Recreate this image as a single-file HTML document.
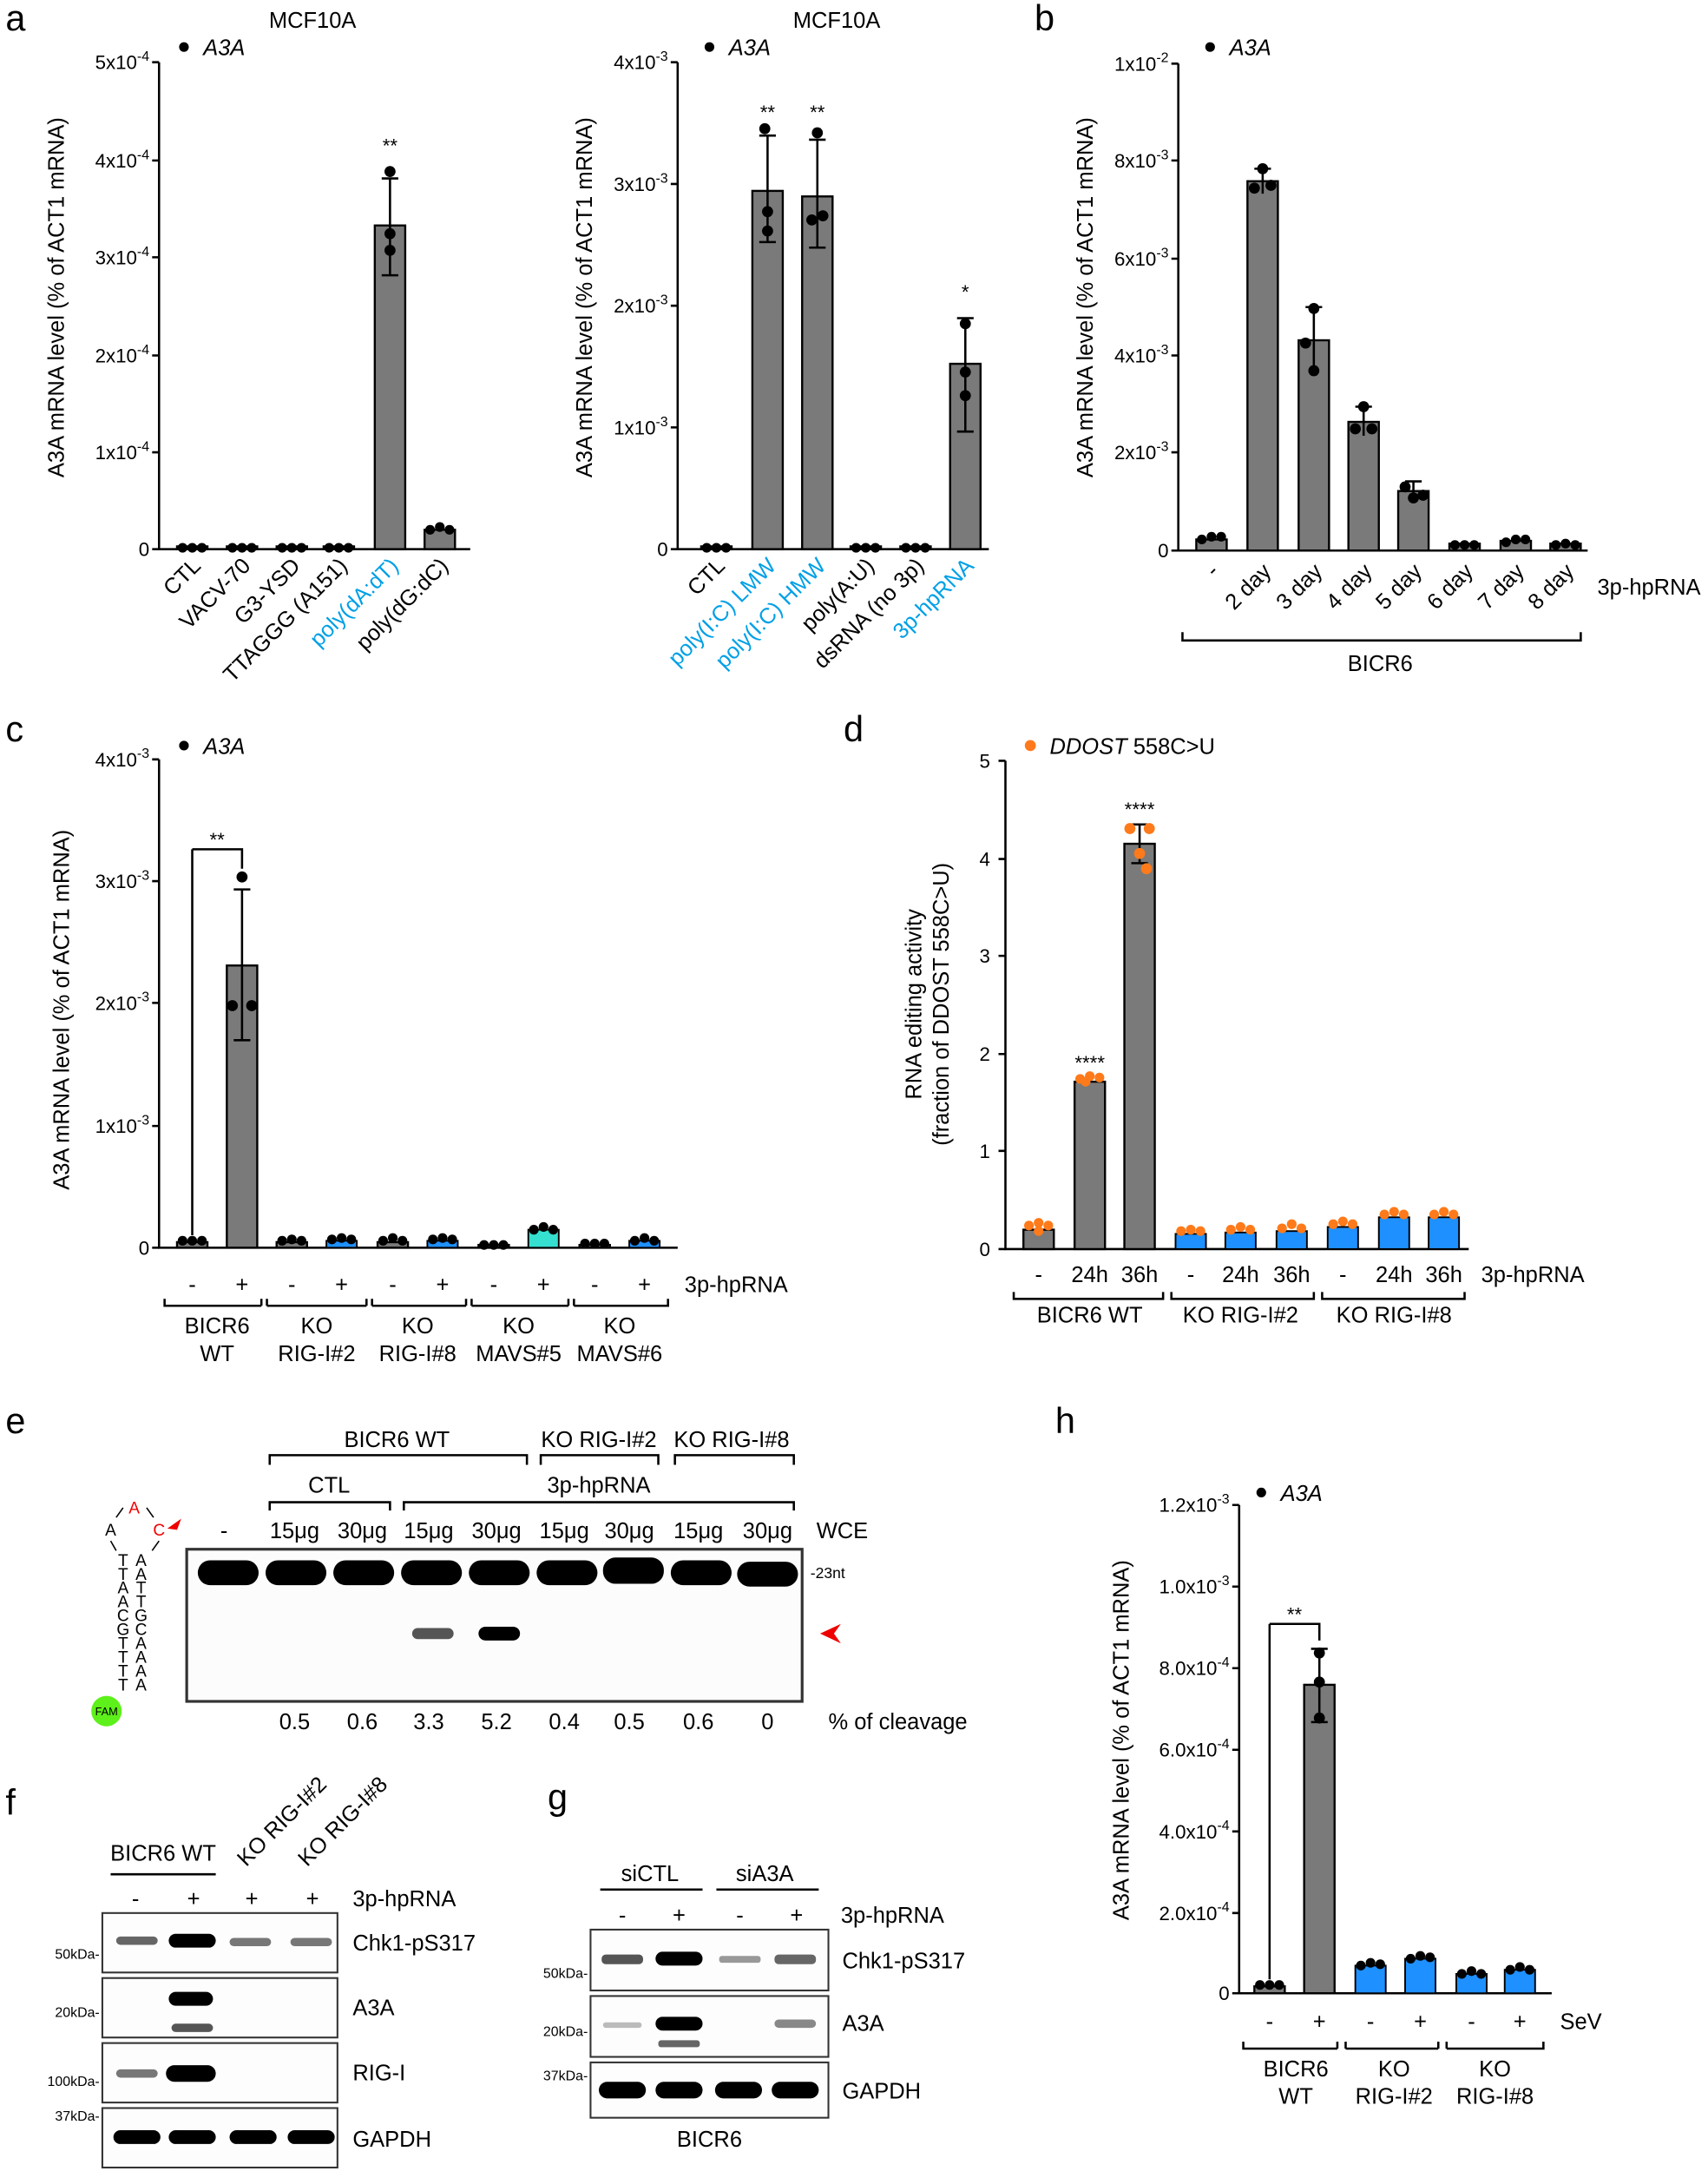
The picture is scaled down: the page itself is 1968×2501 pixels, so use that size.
<!DOCTYPE html>
<html><head><meta charset="utf-8"><style>
html,body{margin:0;padding:0;background:#fff}
svg{display:block}
text{font-family:"Liberation Sans",sans-serif;fill:#000}
.t{font-size:14px}
.l{font-size:16px}
.p{font-size:26px}
.ax{stroke:#000;stroke-width:1.6;fill:none}
.bar{fill:#7a7a7a;stroke:#000;stroke-width:1.5}
.bb{fill:#1e90ff;stroke:#000;stroke-width:1.2}
.eb{stroke:#000;stroke-width:1.6;fill:none}
.blue{fill:#00a0e6}
</style></head><body>
<svg width="1968" height="2501" viewBox="0 0 1235 1569.5" xmlns="http://www.w3.org/2000/svg">
<!-- panel letters -->
<text class="p" x="4" y="22">a</text>
<text class="p" x="748" y="22">b</text>
<text class="p" x="4" y="536">c</text>
<text class="p" x="610" y="536">d</text>
<text class="p" x="4" y="1036">e</text>
<text class="p" x="763" y="1036">h</text>
<text class="p" x="4" y="1312">f</text>
<text class="p" x="396" y="1308">g</text>

<!-- ===== a1 ===== -->
<text class="l" x="226" y="20" text-anchor="middle">MCF10A</text>
<circle cx="133" cy="34" r="3.5"/><text class="l" x="147" y="40" font-style="italic">A3A</text>
<path class="ax" d="M115 45V397H340"/>
<g class="eb"><path d="M110 45H115M110 116H115M110 186H115M110 257H115M110 327H115M110 397H115"/></g>
<g class="t" text-anchor="end">
<text x="108" y="50">5x10<tspan dy="-6" font-size="10">-4</tspan></text>
<text x="108" y="121">4x10<tspan dy="-6" font-size="10">-4</tspan></text>
<text x="108" y="191">3x10<tspan dy="-6" font-size="10">-4</tspan></text>
<text x="108" y="262">2x10<tspan dy="-6" font-size="10">-4</tspan></text>
<text x="108" y="332">1x10<tspan dy="-6" font-size="10">-4</tspan></text>
<text x="108" y="402">0</text></g>
<text class="l" transform="translate(46,215) rotate(-90)" text-anchor="middle">A3A mRNA level (% of ACT1 mRNA)</text>
<rect class="bar" x="128" y="395" width="22" height="2"/><rect class="bar" x="164" y="395" width="22" height="2"/>
<rect class="bar" x="200" y="395" width="22" height="2"/><rect class="bar" x="234" y="395" width="22" height="2"/>
<rect class="bar" x="271" y="163" width="22" height="234"/><rect class="bar" x="307" y="383" width="22" height="14"/>
<path class="eb" d="M282 129V199M276 129H288M276 199H288"/>
<g><circle cx="132" cy="396" r="3.5"/><circle cx="139" cy="396" r="3.5"/><circle cx="146" cy="396" r="3.5"/>
<circle cx="168" cy="396" r="3.5"/><circle cx="175" cy="396" r="3.5"/><circle cx="182" cy="396" r="3.5"/>
<circle cx="204" cy="396" r="3.5"/><circle cx="211" cy="396" r="3.5"/><circle cx="218" cy="396" r="3.5"/>
<circle cx="238" cy="396" r="3.5"/><circle cx="245" cy="396" r="3.5"/><circle cx="252" cy="396" r="3.5"/>
<circle cx="282" cy="124" r="4"/><circle cx="282" cy="169" r="4"/><circle cx="282" cy="181" r="4"/>
<circle cx="311" cy="383" r="3.5"/><circle cx="318" cy="381" r="3.5"/><circle cx="325" cy="383" r="3.5"/></g>
<text class="t" x="282" y="110" text-anchor="middle">**</text>
<g class="l" text-anchor="end">
<text transform="translate(146,410) rotate(-45)">CTL</text>
<text transform="translate(182,410) rotate(-45)">VACV-70</text>
<text transform="translate(218,410) rotate(-45)">G3-YSD</text>
<text transform="translate(252,410) rotate(-45)">TTAGGG (A151)</text>
<text class="blue" transform="translate(289,410) rotate(-45)">poly(dA:dT)</text>
<text transform="translate(325,410) rotate(-45)">poly(dG:dC)</text></g>

<!-- ===== a2 ===== -->
<text class="l" x="605" y="20" text-anchor="middle">MCF10A</text>
<circle cx="513" cy="34" r="3.5"/><text class="l" x="527" y="40" font-style="italic">A3A</text>
<path class="ax" d="M490 45V397H715"/>
<path class="eb" d="M485 45H490M485 133H490M485 221H490M485 309H490M485 397H490"/>
<g class="t" text-anchor="end">
<text x="483" y="50">4x10<tspan dy="-6" font-size="10">-3</tspan></text>
<text x="483" y="138">3x10<tspan dy="-6" font-size="10">-3</tspan></text>
<text x="483" y="226">2x10<tspan dy="-6" font-size="10">-3</tspan></text>
<text x="483" y="314">1x10<tspan dy="-6" font-size="10">-3</tspan></text>
<text x="483" y="402">0</text></g>
<text class="l" transform="translate(428,215) rotate(-90)" text-anchor="middle">A3A mRNA level (% of ACT1 mRNA)</text>
<rect class="bar" x="507" y="395" width="22" height="2"/>
<rect class="bar" x="544" y="138" width="22" height="259"/>
<rect class="bar" x="580" y="142" width="22" height="255"/>
<rect class="bar" x="615" y="395" width="22" height="2"/><rect class="bar" x="651" y="395" width="22" height="2"/>
<rect class="bar" x="687" y="263" width="22" height="134"/>
<path class="eb" d="M555 98V175M549 98H561M549 175H561M591 101V179M585 101H597M585 179H597M698 230V312M692 230H704M692 312H704"/>
<g><circle cx="511" cy="396" r="3.5"/><circle cx="518" cy="396" r="3.5"/><circle cx="525" cy="396" r="3.5"/>
<circle cx="553" cy="93" r="4"/><circle cx="555" cy="153" r="4"/><circle cx="555" cy="167" r="4"/>
<circle cx="591" cy="96" r="4"/><circle cx="595" cy="156" r="4"/><circle cx="587" cy="159" r="4"/>
<circle cx="619" cy="396" r="3.5"/><circle cx="626" cy="396" r="3.5"/><circle cx="633" cy="396" r="3.5"/>
<circle cx="655" cy="396" r="3.5"/><circle cx="662" cy="396" r="3.5"/><circle cx="669" cy="396" r="3.5"/>
<circle cx="698" cy="234" r="4"/><circle cx="698" cy="269" r="4"/><circle cx="698" cy="286" r="4"/></g>
<text class="t" x="555" y="86" text-anchor="middle">**</text><text class="t" x="591" y="86" text-anchor="middle">**</text>
<text class="t" x="698" y="216" text-anchor="middle">*</text>
<g class="l" text-anchor="end">
<text transform="translate(525,410) rotate(-45)">CTL</text>
<text class="blue" transform="translate(562,410) rotate(-45)">poly(I:C) LMW</text>
<text class="blue" transform="translate(598,410) rotate(-45)">poly(I:C) HMW</text>
<text transform="translate(633,410) rotate(-45)">poly(A:U)</text>
<text transform="translate(669,410) rotate(-45)">dsRNA (no 3p)</text>
<text class="blue" transform="translate(705,410) rotate(-45)">3p-hpRNA</text></g>

<!-- ===== b ===== -->
<circle cx="875" cy="34" r="3.5"/><text class="l" x="889" y="40" font-style="italic">A3A</text>
<path class="ax" d="M852 46V398H1148"/>
<path class="eb" d="M847 46H852M847 116H852M847 187H852M847 257H852M847 327H852M847 398H852"/>
<g class="t" text-anchor="end">
<text x="845" y="51">1x10<tspan dy="-6" font-size="10">-2</tspan></text>
<text x="845" y="121">8x10<tspan dy="-6" font-size="10">-3</tspan></text>
<text x="845" y="192">6x10<tspan dy="-6" font-size="10">-3</tspan></text>
<text x="845" y="262">4x10<tspan dy="-6" font-size="10">-3</tspan></text>
<text x="845" y="332">2x10<tspan dy="-6" font-size="10">-3</tspan></text>
<text x="845" y="403">0</text></g>
<text class="l" transform="translate(790,215) rotate(-90)" text-anchor="middle">A3A mRNA level (% of ACT1 mRNA)</text>
<rect class="bar" x="865" y="390" width="22" height="8"/>
<rect class="bar" x="902" y="131" width="22" height="267"/>
<rect class="bar" x="939" y="246" width="22" height="152"/>
<rect class="bar" x="975" y="305" width="22" height="93"/>
<rect class="bar" x="1011" y="355" width="22" height="43"/>
<rect class="bar" x="1048" y="393" width="22" height="5"/>
<rect class="bar" x="1085" y="391" width="22" height="7"/>
<rect class="bar" x="1121" y="393" width="22" height="5"/>
<path class="eb" d="M913 122V140M907 122H919M950 222V270M944 222H956M986 294V315M980 294H992M1022 348V362M1016 348H1028"/>
<g><circle cx="869" cy="390" r="3.5"/><circle cx="876" cy="388" r="3.5"/><circle cx="883" cy="388" r="3.5"/>
<circle cx="913" cy="122" r="4"/><circle cx="907" cy="136" r="4"/><circle cx="919" cy="134" r="4"/>
<circle cx="950" cy="223" r="4"/><circle cx="944" cy="248" r="4"/><circle cx="950" cy="268" r="4"/>
<circle cx="986" cy="294" r="4"/><circle cx="980" cy="310" r="4"/><circle cx="992" cy="310" r="4"/>
<circle cx="1016" cy="352" r="4"/><circle cx="1022" cy="360" r="4"/><circle cx="1029" cy="358" r="4"/>
<circle cx="1052" cy="394" r="3.5"/><circle cx="1059" cy="394" r="3.5"/><circle cx="1066" cy="394" r="3.5"/>
<circle cx="1089" cy="392" r="3.5"/><circle cx="1096" cy="390" r="3.5"/><circle cx="1103" cy="390" r="3.5"/>
<circle cx="1125" cy="394" r="3.5"/><circle cx="1132" cy="393" r="3.5"/><circle cx="1139" cy="394" r="3.5"/></g>
<g class="l" text-anchor="end">
<text transform="translate(882,414) rotate(-45)">-</text>
<text transform="translate(920,414) rotate(-45)">2 day</text>
<text transform="translate(957,414) rotate(-45)">3 day</text>
<text transform="translate(993,414) rotate(-45)">4 day</text>
<text transform="translate(1029,414) rotate(-45)">5 day</text>
<text transform="translate(1066,414) rotate(-45)">6 day</text>
<text transform="translate(1103,414) rotate(-45)">7 day</text>
<text transform="translate(1139,414) rotate(-45)">8 day</text></g>
<text class="l" x="1155" y="430">3p-hpRNA</text>
<path class="eb" d="M855 457V463H1143V457"/>
<text class="l" x="998" y="485" text-anchor="middle">BICR6</text>

<!-- ===== c ===== -->
<circle cx="133" cy="539" r="3.5"/><text class="l" x="147" y="545" font-style="italic">A3A</text>
<path class="ax" d="M115 549V902H490"/>
<path class="eb" d="M110 549H115M110 637H115M110 725H115M110 814H115M110 902H115"/>
<g class="t" text-anchor="end">
<text x="108" y="554">4x10<tspan dy="-6" font-size="10">-3</tspan></text>
<text x="108" y="642">3x10<tspan dy="-6" font-size="10">-3</tspan></text>
<text x="108" y="730">2x10<tspan dy="-6" font-size="10">-3</tspan></text>
<text x="108" y="819">1x10<tspan dy="-6" font-size="10">-3</tspan></text>
<text x="108" y="907">0</text></g>
<text class="l" transform="translate(50,730) rotate(-90)" text-anchor="middle">A3A mRNA level (% of ACT1 mRNA)</text>
<rect class="bar" x="128" y="898" width="22" height="4"/>
<rect class="bar" x="164" y="698" width="22" height="204"/>
<rect class="bar" x="200" y="898" width="22" height="4"/><rect class="bb" x="236" y="897" width="22" height="5"/>
<rect class="bar" x="273" y="898" width="22" height="4"/><rect class="bb" x="309" y="897" width="22" height="5"/>
<rect class="bar" x="346" y="900" width="22" height="2"/><rect class="bb" style="fill:#35e0d0" x="382" y="889" width="22" height="13"/>
<rect class="bar" x="419" y="900" width="22" height="2"/><rect class="bb" x="455" y="897" width="22" height="5"/>
<path class="eb" d="M175 643V752M169 643H181M169 752H181M139 614V893M139 614H175V628"/>
<text class="t" x="157" y="612" text-anchor="middle">**</text>
<g><circle cx="132" cy="897" r="3.5"/><circle cx="139" cy="897" r="3.5"/><circle cx="146" cy="897" r="3.5"/>
<circle cx="175" cy="634" r="4"/><circle cx="168" cy="727" r="4"/><circle cx="182" cy="727" r="4"/>
<circle cx="204" cy="897" r="3.5"/><circle cx="211" cy="896" r="3.5"/><circle cx="218" cy="897" r="3.5"/>
<circle cx="240" cy="896" r="3.5"/><circle cx="247" cy="895" r="3.5"/><circle cx="254" cy="896" r="3.5"/>
<circle cx="277" cy="897" r="3.5"/><circle cx="284" cy="895" r="3.5"/><circle cx="291" cy="897" r="3.5"/>
<circle cx="313" cy="896" r="3.5"/><circle cx="320" cy="895" r="3.5"/><circle cx="327" cy="896" r="3.5"/>
<circle cx="350" cy="900" r="3.5"/><circle cx="357" cy="900" r="3.5"/><circle cx="364" cy="900" r="3.5"/>
<circle cx="386" cy="889" r="3.5"/><circle cx="393" cy="887" r="3.5"/><circle cx="400" cy="889" r="3.5"/>
<circle cx="423" cy="899" r="3.5"/><circle cx="430" cy="899" r="3.5"/><circle cx="437" cy="899" r="3.5"/>
<circle cx="459" cy="897" r="3.5"/><circle cx="466" cy="895" r="3.5"/><circle cx="473" cy="897" r="3.5"/></g>
<g class="l" text-anchor="middle">
<text x="139" y="934">-</text><text x="175" y="934">+</text><text x="211" y="934">-</text><text x="247" y="934">+</text>
<text x="284" y="934">-</text><text x="320" y="934">+</text><text x="357" y="934">-</text><text x="393" y="934">+</text>
<text x="430" y="934">-</text><text x="466" y="934">+</text>
<text x="157" y="964">BICR6</text><text x="157" y="984">WT</text>
<text x="229" y="964">KO</text><text x="229" y="984">RIG-I#2</text>
<text x="302" y="964">KO</text><text x="302" y="984">RIG-I#8</text>
<text x="375" y="964">KO</text><text x="375" y="984">MAVS#5</text>
<text x="448" y="964">KO</text><text x="448" y="984">MAVS#6</text></g>
<text class="l" x="495" y="934">3p-hpRNA</text>
<path class="eb" d="M119 939V944H189M193 944H265M269 944H337M341 944H411M415 944H483V939M189 939V944M193 939V944M265 939V944M269 939V944M337 939V944M341 939V944M411 939V944M415 939V944"/>

<!-- ===== d ===== -->
<circle cx="745" cy="539" r="4" fill="#ff7a1a"/><text class="l" x="759" y="545"><tspan font-style="italic">DDOST</tspan> 558C&gt;U</text>
<path class="ax" d="M727 550V903H1062"/>
<path class="eb" d="M722 550H727M722 621H727M722 691H727M722 762H727M722 832H727M722 903H727"/>
<g class="t" text-anchor="end">
<text x="716" y="555">5</text><text x="716" y="626">4</text><text x="716" y="696">3</text>
<text x="716" y="767">2</text><text x="716" y="837">1</text><text x="716" y="908">0</text></g>
<text class="l" transform="translate(666,726) rotate(-90)" text-anchor="middle">RNA editing activity</text>
<text class="l" transform="translate(686,726) rotate(-90)" text-anchor="middle">(fraction of DDOST 558C&gt;U)</text>
<rect class="bar" x="740" y="889" width="22" height="14"/>
<rect class="bar" x="777" y="782" width="22" height="121"/>
<rect class="bar" x="813" y="610" width="22" height="293"/>
<rect class="bb" x="850" y="892" width="22" height="11"/><rect class="bb" x="886" y="891" width="22" height="12"/>
<rect class="bb" x="923" y="890" width="22" height="13"/><rect class="bb" x="960" y="887" width="22" height="16"/>
<rect class="bb" x="997" y="880" width="22" height="23"/><rect class="bb" x="1033" y="880" width="22" height="23"/>
<path class="eb" d="M824 596V624M818 596H830M818 624H830"/>
<g fill="#ff7a1a">
<circle cx="744" cy="886" r="3.5"/><circle cx="751" cy="884" r="3.5"/><circle cx="758" cy="886" r="3.5"/><circle cx="751" cy="890" r="3.5"/>
<circle cx="781" cy="780" r="3.5"/><circle cx="788" cy="778" r="3.5"/><circle cx="795" cy="779" r="3.5"/><circle cx="785" cy="782" r="3.5"/>
<circle cx="817" cy="599" r="4"/><circle cx="831" cy="599" r="4"/><circle cx="824" cy="617" r="4"/><circle cx="829" cy="628" r="4"/>
<circle cx="854" cy="890" r="3.5"/><circle cx="861" cy="889" r="3.5"/><circle cx="868" cy="890" r="3.5"/>
<circle cx="890" cy="889" r="3.5"/><circle cx="897" cy="887" r="3.5"/><circle cx="904" cy="889" r="3.5"/>
<circle cx="927" cy="888" r="3.5"/><circle cx="934" cy="885" r="3.5"/><circle cx="941" cy="888" r="3.5"/>
<circle cx="964" cy="885" r="3.5"/><circle cx="971" cy="883" r="3.5"/><circle cx="978" cy="885" r="3.5"/>
<circle cx="1001" cy="878" r="3.5"/><circle cx="1008" cy="876" r="3.5"/><circle cx="1015" cy="878" r="3.5"/>
<circle cx="1037" cy="878" r="3.5"/><circle cx="1044" cy="876" r="3.5"/><circle cx="1051" cy="878" r="3.5"/></g>
<text class="t" x="788" y="773" text-anchor="middle">****</text>
<text class="t" x="824" y="590" text-anchor="middle">****</text>
<g class="l" text-anchor="middle">
<text x="751" y="927">-</text><text x="788" y="927">24h</text><text x="824" y="927">36h</text>
<text x="861" y="927">-</text><text x="897" y="927">24h</text><text x="934" y="927">36h</text>
<text x="971" y="927">-</text><text x="1008" y="927">24h</text><text x="1044" y="927">36h</text>
<text x="788" y="956">BICR6 WT</text><text x="897" y="956">KO RIG-I#2</text><text x="1008" y="956">KO RIG-I#8</text></g>
<text class="l" x="1071" y="927">3p-hpRNA</text>
<path class="eb" d="M733 934V939H841V934M847 934V939H950V934M956 934V939H1059V934"/>

<!-- ===== e ===== -->
<rect x="135" y="1120" width="445" height="110" fill="#fcfcfc" stroke="#333" stroke-width="2"/>
<g fill="#000">
<rect x="143" y="1128" width="44" height="18" rx="9"/><rect x="192" y="1128" width="44" height="18" rx="9"/>
<rect x="241" y="1128" width="44" height="18" rx="9"/><rect x="290" y="1128" width="44" height="18" rx="9"/>
<rect x="339" y="1128" width="44" height="18" rx="9"/><rect x="388" y="1128" width="44" height="18" rx="9"/>
<rect x="436" y="1126" width="44" height="19" rx="9"/><rect x="485" y="1128" width="44" height="18" rx="9"/>
<rect x="533" y="1129" width="44" height="18" rx="9"/></g>
<rect x="298" y="1177" width="30" height="8" rx="4" fill="#555"/>
<rect x="346" y="1176" width="30" height="10" rx="5" fill="#000"/>
<g class="l" text-anchor="middle">
<text x="287" y="1046">BICR6 WT</text><text x="433" y="1046">KO RIG-I#2</text><text x="529" y="1046">KO RIG-I#8</text>
<text x="238" y="1079">CTL</text><text x="433" y="1079">3p-hpRNA</text>
<text x="162" y="1112">-</text>
<text x="213" y="1112">15μg</text><text x="262" y="1112">30μg</text><text x="310" y="1112">15μg</text><text x="359" y="1112">30μg</text>
<text x="408" y="1112">15μg</text><text x="455" y="1112">30μg</text><text x="505" y="1112">15μg</text><text x="555" y="1112">30μg</text>
<text x="609" y="1112">WCE</text>
<text x="213" y="1250">0.5</text><text x="262" y="1250">0.6</text><text x="310" y="1250">3.3</text><text x="359" y="1250">5.2</text>
<text x="408" y="1250">0.4</text><text x="455" y="1250">0.5</text><text x="505" y="1250">0.6</text><text x="555" y="1250">0</text></g>
<text class="l" x="599" y="1250">% of cleavage</text>
<path class="eb" d="M195 1059V1052H381V1059M391 1059V1052H476V1059M488 1059V1052H574V1059M195 1092V1086H282V1092M292 1092V1086H574V1092"/>
<text x="586" y="1141" font-size="11">-23nt</text>
<path d="M593 1181L608 1174L603 1181L608 1188Z" fill="#e00"/>
<g font-size="12" text-anchor="middle">
<text x="97" y="1094" style="fill:#e00">A</text><text x="80" y="1110">A</text><text x="115" y="1110" style="fill:#e00">C</text>
<text x="89" y="1132">T</text><text x="89" y="1142">T</text><text x="89" y="1152">A</text><text x="89" y="1162">A</text><text x="89" y="1172">C</text><text x="89" y="1182">G</text><text x="89" y="1192">T</text><text x="89" y="1202">T</text><text x="89" y="1212">T</text><text x="89" y="1222">T</text>
<text x="102" y="1132">A</text><text x="102" y="1142">A</text><text x="102" y="1152">T</text><text x="102" y="1162">T</text><text x="102" y="1172">G</text><text x="102" y="1182">C</text><text x="102" y="1192">A</text><text x="102" y="1202">A</text><text x="102" y="1212">A</text><text x="102" y="1222">A</text></g>
<path d="M84 1097L89 1090M106 1090L111 1097M80 1114L84 1121M115 1114L110 1121" stroke="#000" stroke-width="1" fill="none"/>
<path d="M121 1105L131 1098L128 1106Z" fill="#e00"/>
<ellipse cx="77" cy="1237" rx="11" ry="11" fill="#5ef01a"/><text x="77" y="1240" font-size="8" text-anchor="middle">FAM</text>

<!-- ===== f ===== -->
<text class="l" x="118" y="1345" text-anchor="middle">BICR6 WT</text>
<path class="eb" d="M80 1355H156"/>
<g class="l" text-anchor="start">
<text transform="translate(178,1350) rotate(-45)">KO RIG-I#2</text>
<text transform="translate(222,1350) rotate(-45)">KO RIG-I#8</text></g>
<g class="l" text-anchor="middle"><text x="98" y="1378">-</text><text x="140" y="1378">+</text><text x="182" y="1378">+</text><text x="226" y="1378">+</text></g>
<text class="l" x="255" y="1378">3p-hpRNA</text>
<g fill="#fdfdfd" stroke="#333" stroke-width="1.3">
<rect x="74" y="1383" width="170" height="43"/><rect x="74" y="1430" width="170" height="43"/>
<rect x="74" y="1477" width="170" height="43"/><rect x="74" y="1524" width="170" height="43"/></g>
<g fill="#000">
<rect x="84" y="1400" width="30" height="6" rx="3" fill="#666"/><rect x="122" y="1398" width="34" height="10" rx="5"/>
<rect x="166" y="1401" width="30" height="6" rx="3" fill="#777"/><rect x="210" y="1401" width="30" height="6" rx="3" fill="#777"/>
<rect x="122" y="1440" width="32" height="10" rx="5"/><rect x="124" y="1463" width="30" height="6" rx="3" fill="#555"/>
<rect x="84" y="1496" width="30" height="6" rx="3" fill="#777"/><rect x="120" y="1493" width="36" height="12" rx="6"/>
<rect x="82" y="1540" width="34" height="10" rx="5"/><rect x="122" y="1540" width="34" height="10" rx="5"/>
<rect x="166" y="1540" width="34" height="10" rx="5"/><rect x="208" y="1540" width="34" height="10" rx="5"/></g>
<g font-size="10" text-anchor="end"><text x="72" y="1416">50kDa-</text><text x="72" y="1458">20kDa-</text><text x="72" y="1508">100kDa-</text><text x="72" y="1533">37kDa-</text></g>
<g class="l"><text x="255" y="1410">Chk1-pS317</text><text x="255" y="1457">A3A</text><text x="255" y="1504">RIG-I</text><text x="255" y="1552">GAPDH</text></g>

<!-- ===== g ===== -->
<text class="l" x="470" y="1360" text-anchor="middle">siCTL</text><text class="l" x="553" y="1360" text-anchor="middle">siA3A</text>
<path class="eb" d="M434 1366H508M518 1366H592"/>
<g class="l" text-anchor="middle"><text x="450" y="1390">-</text><text x="491" y="1390">+</text><text x="535" y="1390">-</text><text x="576" y="1390">+</text></g>
<text class="l" x="608" y="1390">3p-hpRNA</text>
<g fill="#fdfdfd" stroke="#333" stroke-width="1.3">
<rect x="427" y="1395" width="172" height="44"/><rect x="427" y="1443" width="172" height="44"/><rect x="427" y="1491" width="172" height="40"/></g>
<g fill="#000">
<rect x="435" y="1413" width="30" height="7" rx="3" fill="#555"/><rect x="474" y="1411" width="34" height="10" rx="5"/>
<rect x="520" y="1414" width="30" height="5" rx="2" fill="#999"/><rect x="560" y="1413" width="30" height="7" rx="3" fill="#666"/>
<rect x="474" y="1458" width="34" height="10" rx="5"/><rect x="476" y="1475" width="30" height="5" rx="2" fill="#666"/>
<rect x="560" y="1460" width="30" height="6" rx="3" fill="#888"/><rect x="436" y="1462" width="28" height="4" rx="2" fill="#bbb"/>
<rect x="433" y="1505" width="34" height="12" rx="6"/><rect x="474" y="1505" width="34" height="12" rx="6"/>
<rect x="517" y="1505" width="34" height="12" rx="6"/><rect x="558" y="1505" width="34" height="12" rx="6"/></g>
<g font-size="10" text-anchor="end"><text x="425" y="1430">50kDa-</text><text x="425" y="1472">20kDa-</text><text x="425" y="1504">37kDa-</text></g>
<g class="l"><text x="609" y="1423">Chk1-pS317</text><text x="609" y="1468">A3A</text><text x="609" y="1517">GAPDH</text></g>
<text class="l" x="513" y="1552" text-anchor="middle">BICR6</text>

<!-- ===== h ===== -->
<circle cx="912" cy="1079" r="3.5"/><text class="l" x="926" y="1085" font-style="italic">A3A</text>
<path class="ax" d="M896 1088V1441H1122"/>
<path class="eb" d="M891 1088H896M891 1147H896M891 1206H896M891 1265H896M891 1324H896M891 1383H896M891 1441H896"/>
<g class="t" text-anchor="end">
<text x="889" y="1093">1.2x10<tspan dy="-6" font-size="10">-3</tspan></text>
<text x="889" y="1152">1.0x10<tspan dy="-6" font-size="10">-3</tspan></text>
<text x="889" y="1211">8.0x10<tspan dy="-6" font-size="10">-4</tspan></text>
<text x="889" y="1270">6.0x10<tspan dy="-6" font-size="10">-4</tspan></text>
<text x="889" y="1329">4.0x10<tspan dy="-6" font-size="10">-4</tspan></text>
<text x="889" y="1388">2.0x10<tspan dy="-6" font-size="10">-4</tspan></text>
<text x="889" y="1446">0</text></g>
<text class="l" transform="translate(816,1258) rotate(-90)" text-anchor="middle">A3A mRNA level (% of ACT1 mRNA)</text>
<rect class="bar" x="907" y="1436" width="22" height="5"/>
<rect class="bar" x="943" y="1218" width="22" height="223"/>
<rect class="bb" x="980" y="1421" width="22" height="20"/><rect class="bb" x="1016" y="1416" width="22" height="25"/>
<rect class="bb" x="1053" y="1427" width="22" height="14"/><rect class="bb" x="1088" y="1424" width="22" height="17"/>
<path class="eb" d="M954 1192V1245M948 1192H960M948 1245H960M918 1174V1431M918 1174H954V1186"/>
<text class="t" x="936" y="1172" text-anchor="middle">**</text>
<g><circle cx="911" cy="1435" r="3.5"/><circle cx="918" cy="1435" r="3.5"/><circle cx="925" cy="1435" r="3.5"/>
<circle cx="954" cy="1195" r="4"/><circle cx="954" cy="1216" r="4"/><circle cx="954" cy="1242" r="4"/>
<circle cx="984" cy="1421" r="3.5"/><circle cx="991" cy="1419" r="3.5"/><circle cx="998" cy="1420" r="3.5"/>
<circle cx="1020" cy="1416" r="3.5"/><circle cx="1027" cy="1414" r="3.5"/><circle cx="1034" cy="1415" r="3.5"/>
<circle cx="1057" cy="1427" r="3.5"/><circle cx="1064" cy="1425" r="3.5"/><circle cx="1071" cy="1427" r="3.5"/>
<circle cx="1092" cy="1424" r="3.5"/><circle cx="1099" cy="1422" r="3.5"/><circle cx="1106" cy="1424" r="3.5"/></g>
<g class="l" text-anchor="middle">
<text x="918" y="1467">-</text><text x="954" y="1467">+</text><text x="991" y="1467">-</text><text x="1027" y="1467">+</text>
<text x="1064" y="1467">-</text><text x="1099" y="1467">+</text>
<text x="937" y="1501">BICR6</text><text x="937" y="1521">WT</text>
<text x="1008" y="1501">KO</text><text x="1008" y="1521">RIG-I#2</text>
<text x="1081" y="1501">KO</text><text x="1081" y="1521">RIG-I#8</text></g>
<text class="l" x="1128" y="1467">SeV</text>
<path class="eb" d="M899 1476V1481H967M973 1481H1040M1046 1481H1116V1476M967 1476V1481M973 1476V1481M1040 1476V1481M1046 1476V1481"/>
</svg>
</body></html>
